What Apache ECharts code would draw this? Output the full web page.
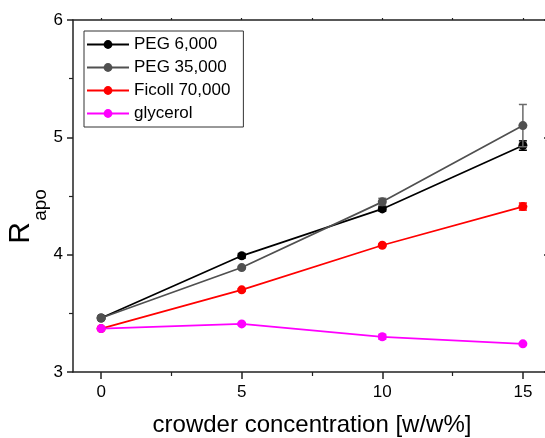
<!DOCTYPE html>
<html>
<head>
<meta charset="utf-8">
<script src="https://cdn.jsdelivr.net/npm/echarts@6/dist/echarts.min.js"></script>
<style>
html,body{margin:0;padding:0;background:#fff;}
#chart{width:545px;height:438px;}
</style>
</head>
<body>
<div id="chart"></div>
<script>
const xValues = [0, 5, 10, 15];
const seriesNames = ['PEG 6,000', 'PEG 35,000', 'Ficoll 70,000', 'glycerol'];
const peg6000 = [3.46, 3.99, 4.39, 4.93];
const peg6000Err = [0.01, 0.02, 0.02, 0.04];
const peg35000 = [3.46, 3.89, 4.45, 5.10];
const peg35000Err = [0.01, 0.01, 0.03, 0.18];
const ficoll70000 = [3.37, 3.70, 4.08, 4.41];
const ficoll70000Err = [0.01, 0.01, 0.01, 0.03];
const glycerol = [3.37, 3.41, 3.30, 3.24];
const glycerolErr = [0.01, 0.01, 0.02, 0.01];
const xTickLabels = [0, 5, 10, 15];
const xMinorTicks = [2.5, 7.5, 12.5];
const xTitle = 'crowder concentration [w/w%]';

const FONT = '"Liberation Sans", Arial, sans-serif';
const colors = ['#000000', '#505050', '#ff0000', '#ff00ff'];
const errColors = ['#000000', '#6a6a6a', '#ff0000', '#ff00ff'];
const allVals = [peg6000, peg35000, ficoll70000, glycerol];
const allErrs = [peg6000Err, peg35000Err, ficoll70000Err, glycerolErr];

const chart = echarts.init(document.getElementById('chart'));

function errSeries(i) {
  const data = xValues.map((x, k) => [x, allVals[i][k] - allErrs[i][k], allVals[i][k] + allErrs[i][k]]);
  return {
    type: 'custom',
    name: seriesNames[i] + ' err',
    xAxisIndex: 0, yAxisIndex: 0,
    encode: { x: 0, y: [1, 2] },
    data: data,
    z: 2 + i * 2,
    silent: true,
    renderItem: function (params, api) {
      const x = api.value(0);
      const lo = api.coord([x, api.value(1)]);
      const hi = api.coord([x, api.value(2)]);
      const w = 4;
      const st = { stroke: errColors[i], lineWidth: 1.5 };
      return {
        type: 'group',
        children: [
          { type: 'line', shape: { x1: hi[0], y1: hi[1], x2: lo[0], y2: lo[1] }, style: st },
          { type: 'line', shape: { x1: hi[0] - w, y1: hi[1], x2: hi[0] + w, y2: hi[1] }, style: st },
          { type: 'line', shape: { x1: lo[0] - w, y1: lo[1], x2: lo[0] + w, y2: lo[1] }, style: st }
        ]
      };
    }
  };
}

function lineSeries(i) {
  return {
    type: 'line',
    name: seriesNames[i],
    xAxisIndex: 0, yAxisIndex: 0,
    data: xValues.map((x, k) => [x, allVals[i][k]]),
    symbol: 'circle',
    symbolSize: 9,
    z: 3 + i * 2,
    lineStyle: { color: colors[i], width: 1.7 },
    itemStyle: { color: colors[i] },
    emphasis: { disabled: true }
  };
}

const series = [];
for (let i = 0; i < 4; i++) { series.push(errSeries(i)); series.push(lineSeries(i)); }

const axisLineStyle = { color: '#222', width: 1.5 };

chart.setOption({
  animation: false,
  backgroundColor: '#fff',
  grid: { left: 73, top: 20, width: 478, height: 352, containLabel: false, outerBoundsMode: 'none' },
  legend: {
    data: seriesNames,
    orient: 'vertical',
    left: 84, top: 31,
    itemWidth: 42, itemHeight: 11,
    itemGap: 6,
    padding: [5, 13, 5, 2],
    borderColor: '#333', borderWidth: 1,
    backgroundColor: '#fff',
    textStyle: { fontFamily: FONT, fontSize: 17, color: '#000', lineHeight: 17 },
    selectedMode: false
  },
  xAxis: [
    {
      type: 'value', position: 'bottom', min: -1, max: 16,
      axisLine: { show: true, onZero: false, lineStyle: axisLineStyle },
      axisTick: { show: true, inside: false, length: 7, customValues: xTickLabels, lineStyle: { color: '#222', width: 1.5 } },
      axisLabel: { show: true, customValues: xTickLabels, margin: 12, fontFamily: FONT, fontSize: 17, color: '#000' },
      splitLine: { show: false },
      name: xTitle, nameLocation: 'middle', nameGap: 41,
      nameTextStyle: { fontFamily: FONT, fontSize: 24, color: '#000' }
    },
    {
      type: 'value', position: 'bottom', min: -1, max: 16,
      axisLine: { show: false, onZero: false },
      axisTick: { show: true, inside: false, length: 4, customValues: xMinorTicks, lineStyle: { color: '#222', width: 1.2 } },
      axisLabel: { show: false },
      splitLine: { show: false }
    },
    {
      type: 'value', position: 'top', min: -1, max: 16,
      axisLine: { show: true, onZero: false, lineStyle: axisLineStyle },
      axisTick: { show: true, inside: false, length: 2, customValues: [0, 2.5, 5, 7.5, 10, 12.5, 15], lineStyle: { color: '#222', width: 1.2 } },
      axisLabel: { show: false },
      splitLine: { show: false }
    }
  ],
  yAxis: [
    {
      type: 'value', position: 'left', min: 3, max: 6, interval: 1,
      axisLine: { show: true, onZero: false, lineStyle: axisLineStyle },
      axisTick: { show: true, inside: false, length: 6, lineStyle: { color: '#222', width: 1.5 } },
      minorTick: { show: true, splitNumber: 2, length: 4, lineStyle: { color: '#222', width: 1.2 } },
      axisLabel: { show: true, margin: 10, fontFamily: FONT, fontSize: 17, color: '#000' },
      splitLine: { show: false }
    },
    {
      type: 'value', position: 'right', min: 3, max: 6, interval: 1,
      axisLine: { show: true, onZero: false, lineStyle: axisLineStyle },
      axisTick: { show: true, inside: true, length: 7, lineStyle: { color: '#222', width: 1.5 } },
      minorTick: { show: false },
      axisLabel: { show: false },
      splitLine: { show: false }
    }
  ],
  graphic: [
    {
      type: 'text', x: 21, y: 233, rotation: Math.PI / 2,
      style: { text: 'R', font: '30px ' + FONT, fill: '#000', align: 'center', verticalAlign: 'middle' }
    },
    {
      type: 'text', x: 41, y: 205, rotation: Math.PI / 2,
      style: { text: 'apo', font: '19px ' + FONT, fill: '#000', align: 'center', verticalAlign: 'middle' }
    }
  ],
  series: series
});
</script>
</body>
</html>
